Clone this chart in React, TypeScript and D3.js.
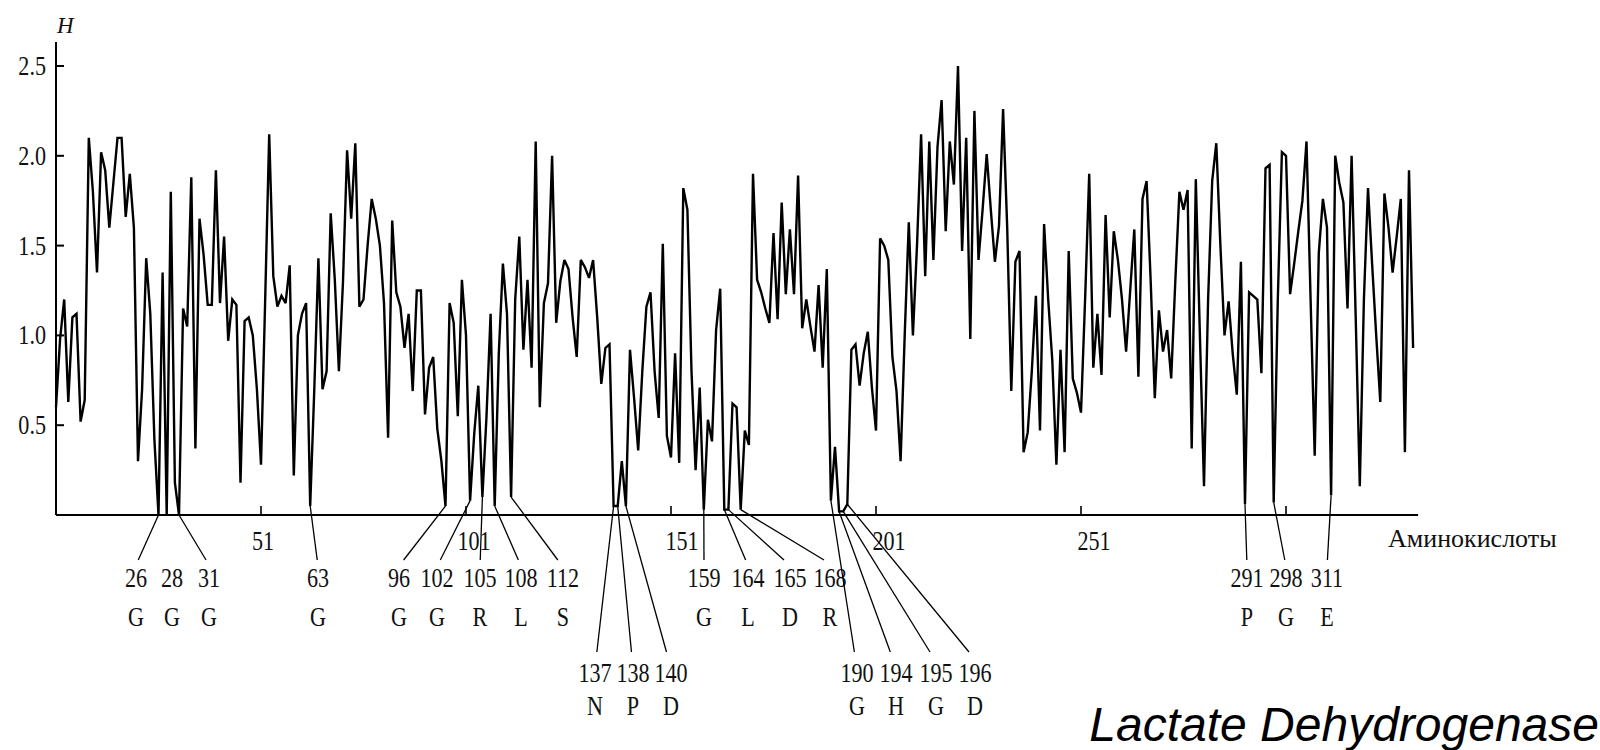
import React from 'react';
import * as d3 from 'd3';

// Hydropathy profile values, one per residue
const hydropathy: number[] = [
  0.60, 0.98, 1.20, 0.63, 1.10, 1.12, 0.52, 0.64, 2.10, 1.80,
  1.35, 2.02, 1.92, 1.60, 1.85, 2.10, 2.10, 1.66, 1.90, 1.60,
  0.30, 0.70, 1.43, 1.12, 0.42, 0.00, 1.35, 0.00, 1.80, 0.18,
  0.00, 1.15, 1.05, 1.88, 0.37, 1.65, 1.45, 1.17, 1.17, 1.92,
  1.18, 1.55, 0.97, 1.20, 1.17, 0.18, 1.08, 1.10, 1.00, 0.70,
  0.28, 1.18, 2.12, 1.33, 1.16, 1.22, 1.18, 1.39, 0.22, 1.00,
  1.12, 1.18, 0.05, 0.70, 1.43, 0.70, 0.80, 1.68, 1.31, 0.80,
  1.30, 2.03, 1.65, 2.07, 1.16, 1.20, 1.50, 1.76, 1.65, 1.50,
  1.18, 0.43, 1.64, 1.24, 1.16, 0.93, 1.12, 0.69, 1.25, 1.25,
  0.56, 0.82, 0.88, 0.48, 0.30, 0.05, 1.18, 1.07, 0.55, 1.31,
  1.00, 0.08, 0.45, 0.72, 0.10, 0.55, 1.12, 0.05, 0.90, 1.40,
  1.12, 0.10, 1.20, 1.55, 0.92, 1.31, 0.82, 2.08, 0.60, 1.18,
  1.29, 2.00, 1.07, 1.30, 1.42, 1.37, 1.10, 0.88, 1.42, 1.38,
  1.32, 1.42, 1.10, 0.73, 0.93, 0.95, 0.05, 0.05, 0.30, 0.05,
  0.92, 0.65, 0.36, 0.80, 1.16, 1.24, 0.80, 0.54, 1.51, 0.44,
  0.32, 0.90, 0.29, 1.82, 1.70, 0.80, 0.25, 0.71, 0.03, 0.53,
  0.41, 1.03, 1.26, 0.03, 0.03, 0.62, 0.60, 0.03, 0.47, 0.39,
  1.90, 1.31, 1.24, 1.15, 1.07, 1.57, 1.09, 1.74, 1.23, 1.59,
  1.23, 1.89, 1.04, 1.20, 1.05, 0.91, 1.28, 0.82, 1.37, 0.08,
  0.38, 0.02, 0.02, 0.06, 0.92, 0.95, 0.72, 0.90, 1.02, 0.71,
  0.47, 1.54, 1.50, 1.42, 0.88, 0.69, 0.30, 1.00, 1.63, 1.00,
  1.50, 2.12, 1.33, 2.08, 1.42, 2.05, 2.31, 1.58, 2.08, 1.84,
  2.50, 1.47, 2.10, 0.98, 2.25, 1.42, 1.70, 2.01, 1.70, 1.41,
  1.61, 2.26, 1.60, 0.69, 1.41, 1.47, 0.35, 0.46, 0.80, 1.22,
  0.47, 1.62, 1.20, 0.86, 0.28, 0.92, 0.35, 1.47, 0.76, 0.68,
  0.57, 1.20, 1.90, 0.82, 1.12, 0.78, 1.67, 1.10, 1.58, 1.42,
  1.20, 0.91, 1.25, 1.59, 0.77, 1.76, 1.86, 1.30, 0.65, 1.14,
  0.91, 1.03, 0.76, 1.30, 1.80, 1.70, 1.81, 0.37, 1.87, 1.00,
  0.16, 1.20, 1.86, 2.07, 1.50, 1.00, 1.19, 0.90, 0.67, 1.41,
  0.06, 1.24, 1.22, 1.20, 0.79, 1.93, 1.95, 0.07, 1.20, 2.02,
  2.00, 1.23, 1.40, 1.58, 1.75, 2.08, 1.20, 0.33, 1.46, 1.76,
  1.60, 0.11, 2.00, 1.85, 1.74, 1.15, 2.00, 1.10, 0.16, 1.20,
  1.82, 1.40, 1.00, 0.63, 1.79, 1.60, 1.35, 1.55, 1.76, 0.35,
  1.92, 0.93,
];

const xTicks = [51, 101, 151, 201, 251, 301];
const xTickLabels = ['51', '101', '151', '201', '251', ''];
const yTicks = [0.5, 1.0, 1.5, 2.0, 2.5];

// Annotated residues (number, one-letter code, position in profile, label row)
const annNumbers = [26, 28, 31, 63, 96, 102, 105, 108, 112, 137, 138, 140, 159, 164, 165, 168, 190, 194, 195, 196, 291, 298, 311];
const annLetters = ['G', 'G', 'G', 'G', 'G', 'G', 'R', 'L', 'S', 'N', 'P', 'D', 'G', 'L', 'D', 'R', 'G', 'H', 'G', 'D', 'P', 'G', 'E'];
const annIndex = [26, 28, 31, 63, 96, 102, 105, 108, 112, 137, 138, 140, 159, 164, 165, 168, 190, 192, 193, 194, 291, 298, 312];
const annRow = [1, 1, 1, 1, 1, 1, 1, 1, 1, 2, 2, 2, 1, 1, 1, 1, 2, 2, 2, 2, 1, 1, 1];
const annHasLeader = [true, false, true, true, true, true, true, true, true, true, true, true, true, true, true, true, true, true, true, true, true, true, true];

const yAxisTitle = 'H';
const xAxisTitle = 'Аминокислоты';
const chartTitle = 'Lactate Dehydrogenase';

// ---- layout (pixels) ----
const labelCenters = [136, 172, 209, 318, 399, 437, 480, 521, 563, 595, 633, 671, 704, 748, 790, 830, 857, 896, 936, 975, 1247, 1286, 1327];
const xTickLabelShift = [2, 8, 11, 13, 13, 0];
const rowLayout: Record<number, { lineEnd: number; num: number; letter: number }> = {
  1: { lineEnd: 560, num: 587, letter: 626 },
  2: { lineEnd: 652, num: 682, letter: 715 },
};

const SERIF = "'Liberation Serif', 'Times New Roman', serif";
const NARROW = 0.82;

function Condensed({ x, y, size, anchor = 'middle', children }: { x: number; y: number; size: number; anchor?: string; children: React.ReactNode }) {
  return (
    <text
      transform={`translate(${x},${y}) scale(${NARROW},1)`}
      textAnchor={anchor}
      fontFamily={SERIF}
      fontSize={size}
      fill="#111"
    >
      {children}
    </text>
  );
}

export default function App() {
  const n = hydropathy.length;
  const x = d3.scaleLinear().domain([1, n]).range([56, 56 + (n - 1) * 4.1]);
  const y = d3.scaleLinear().domain([0, 2.5]).range([515, 66]);
  const line = d3
    .line<number>()
    .x((_, i) => x(i + 1))
    .y((d) => y(d))
    .curve(d3.curveLinear);

  const axisLeft = x(1);
  const axisRight = x(n) + 5;
  const base = y(0);

  return (
    <svg
      width={1600}
      height={750}
      viewBox="0 0 1600 750"
      style={{ position: 'absolute', left: 0, top: 0, background: '#fff' }}
    >
      <rect x={0} y={0} width={1600} height={750} fill="#fff" />

      {/* y axis */}
      <line x1={axisLeft} x2={axisLeft} y1={42} y2={base} stroke="#000" strokeWidth={2} />
      {yTicks.map((t) => (
        <g key={t}>
          <line x1={axisLeft} x2={axisLeft + 8} y1={y(t)} y2={y(t)} stroke="#000" strokeWidth={2} />
          <Condensed x={axisLeft - 10} y={y(t) + 9} size={27} anchor="end">
            {d3.format('.1f')(t)}
          </Condensed>
        </g>
      ))}
      <text x={57} y={33} fontFamily={SERIF} fontStyle="italic" fontSize={23} fill="#111">
        {yAxisTitle}
      </text>

      {/* x axis */}
      <line x1={axisLeft} x2={axisRight} y1={base} y2={base} stroke="#000" strokeWidth={2} />
      {xTicks.map((t, i) => (
        <g key={t}>
          <line x1={x(t)} x2={x(t)} y1={base} y2={base - 9} stroke="#000" strokeWidth={1.6} />
          <Condensed x={x(t) + xTickLabelShift[i]} y={550} size={27}>
            {xTickLabels[i]}
          </Condensed>
        </g>
      ))}
      <text x={1388} y={547} fontFamily={SERIF} fontSize={26} fill="#111">
        {xAxisTitle}
      </text>

      {/* profile */}
      <path d={line(hydropathy) || ''} fill="none" stroke="#000" strokeWidth={2.4} strokeLinejoin="miter" strokeMiterlimit={3} />

      {/* annotations */}
      {annNumbers.map((num, i) => {
        const row = rowLayout[annRow[i]];
        const sx = x(annIndex[i]);
        const sy = y(hydropathy[annIndex[i] - 1]);
        const lx = labelCenters[i];
        const off = Math.max(-6, Math.min(6, (sx - lx) * 0.1));
        return (
          <g key={num}>
            {annHasLeader[i] && (
              <line x1={sx} y1={sy} x2={lx + off} y2={row.lineEnd} stroke="#000" strokeWidth={1.3} />
            )}
            <Condensed x={lx} y={row.num} size={27}>
              {num}
            </Condensed>
            <Condensed x={lx} y={row.letter} size={27}>
              {annLetters[i]}
            </Condensed>
          </g>
        );
      })}

      <text
        x={1599}
        y={741}
        textAnchor="end"
        fontFamily="'Liberation Sans', Arial, sans-serif"
        fontStyle="italic"
        fontSize={48}
        fill="#000"
      >
        {chartTitle}
      </text>
    </svg>
  );
}
